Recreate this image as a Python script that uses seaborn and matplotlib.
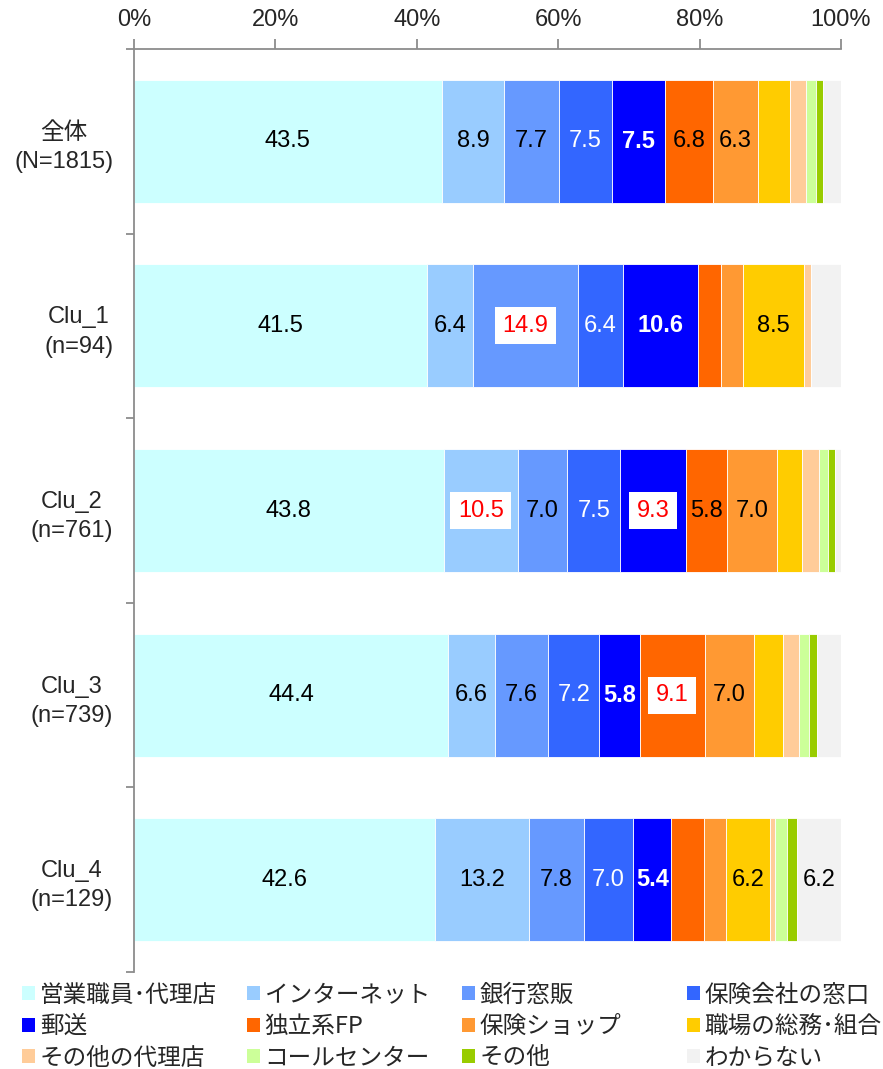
import numpy as np
import pandas as pd
import matplotlib
matplotlib.use("Agg")
import matplotlib.pyplot as plt
from matplotlib.patches import Patch
import seaborn as sns

# --- data -------------------------------------------------------------
groups = ["全体\n(N=1815)", "Clu_1\n(n=94)", "Clu_2\n(n=761)", "Clu_3\n(n=739)", "Clu_4\n(n=129)"]

channels = ["営業職員･代理店", "インターネット", "銀行窓販", "保険会社の窓口",
            "郵送", "独立系FP", "保険ショップ", "職場の総務･組合",
            "その他の代理店", "コールセンター", "その他", "わからない"]

sales_agent   = [43.5, 41.5, 43.8, 44.4, 42.6]
internet      = [8.9, 6.4, 10.5, 6.6, 13.2]
bank          = [7.7, 14.9, 7.0, 7.6, 7.8]
insurer_desk  = [7.5, 6.4, 7.5, 7.2, 7.0]
mail          = [7.5, 10.6, 9.3, 5.8, 5.4]
independent   = [6.8, 3.2, 5.8, 9.1, 4.6]
shop          = [6.3, 3.2, 7.0, 7.0, 3.2]
workplace     = [4.6, 8.5, 3.6, 4.1, 6.2]
other_agent   = [2.3, 1.1, 2.4, 2.3, 0.7]
call_center   = [1.4, 0.0, 1.3, 1.4, 1.6]
other         = [1.0, 0.0, 1.0, 1.1, 1.5]
unknown       = [2.5, 4.2, 0.8, 3.4, 6.2]

series = [sales_agent, internet, bank, insurer_desk, mail, independent,
          shop, workplace, other_agent, call_center, other, unknown]

colors = ["#CCFFFF", "#99CCFF", "#6699FF", "#3366FF", "#0000FF", "#FF6600",
          "#FF9933", "#FFCC00", "#FFCC99", "#CCFF99", "#99CC00", "#F2F2F2"]

# label colour and weight per channel
label_colors = ["black", "black", "black", "white", "white", "black",
                "black", "black", "black", "black", "black", "black"]
label_bold = [False, False, False, False, True, False,
              False, False, False, False, False, False]

# (group index, channel index) values shown in red on a white box
highlights = {(1, 2), (2, 1), (2, 4), (3, 5)}

tick_values = [0, 20, 40, 60, 80, 100]
tick_labels = ["0%", "20%", "40%", "60%", "80%", "100%"]

# --- figure -----------------------------------------------------------
sns.set_theme(style="white")
plt.rcParams["font.family"] = ["Liberation Sans", "Noto Sans CJK JP", "DejaVu Sans"]

FS = 17
fig = plt.figure(figsize=(8.83, 10.69), dpi=100)
ax = fig.add_axes([0.1518, 0.0907, 0.8006, 0.8635])

df = pd.DataFrame({"group": groups})
left = np.zeros(len(groups))
for name, vals, col in zip(channels, series, colors):
    df["value"] = vals
    sns.barplot(data=df, x="value", y="group", orient="h", color=col,
                left=left.copy(), width=0.666, errorbar=None, ax=ax,
                edgecolor="white", linewidth=0.6, saturation=1.0)
    left = left + np.array(vals)

# value labels
start = np.zeros(len(groups))
for j, vals in enumerate(series):
    for i, v in enumerate(vals):
        cx = start[i] + v / 2
        if (i, j) in highlights:
            ax.text(cx, i, f"{v:.1f}", ha="center", va="center", fontsize=FS,
                    color="#FF0000",
                    bbox=dict(boxstyle="square,pad=0.32", facecolor="white",
                              edgecolor="none"))
        elif v >= 5.0:
            ax.text(cx, i, f"{v:.1f}", ha="center", va="center", fontsize=FS,
                    color=label_colors[j],
                    fontweight="bold" if label_bold[j] else "normal")
    start = start + np.array(vals)

# axes styling
ax.set_xlim(0, 100)
ax.set_ylim(4.5, -0.5)
ax.xaxis.tick_top()
ax.set_xticks(tick_values)
ax.set_xticklabels(tick_labels, fontsize=FS)
ax.tick_params(axis="x", which="major", direction="out", length=7, width=1.3,
               color="#8C8C8C", pad=6, top=True, bottom=False)
ax.set_yticks(range(len(groups)))
ax.set_yticklabels(groups, fontsize=FS, multialignment="center",
                   family=["Liberation Sans", "Noto Sans CJK JP"], linespacing=1.42)
ax.set_yticks(np.arange(-0.5, len(groups), 1.0), minor=True)
ax.tick_params(axis="y", which="major", length=0, pad=15)
ax.tick_params(axis="y", which="minor", direction="out", length=6, width=1.3,
               color="#8C8C8C", left=True)
ax.set_xlabel("")
ax.set_ylabel("")
for side in ["right", "bottom"]:
    ax.spines[side].set_visible(False)
for side in ["left", "top"]:
    ax.spines[side].set_color("#8C8C8C")
    ax.spines[side].set_linewidth(1.3)
ax.grid(False)

# legend: four columns laid out row by row
col_x = [0.025, 0.2797, 0.523, 0.778]
for c in range(4):
    idx = [c, c + 4, c + 8]
    handles = [Patch(facecolor=colors[k], edgecolor="none") for k in idx]
    labels = [channels[k] for k in idx]
    fig.legend(handles, labels, loc="upper left", bbox_to_anchor=(col_x[c], 0.0800),
               frameon=False, ncol=1, handlelength=0.55, handleheight=0.55,
               handletextpad=0.2, labelspacing=0.36, borderaxespad=0, borderpad=0,
               prop={"family": ["Noto Sans CJK JP"], "size": FS})

fig.savefig("out.png", dpi=100)
